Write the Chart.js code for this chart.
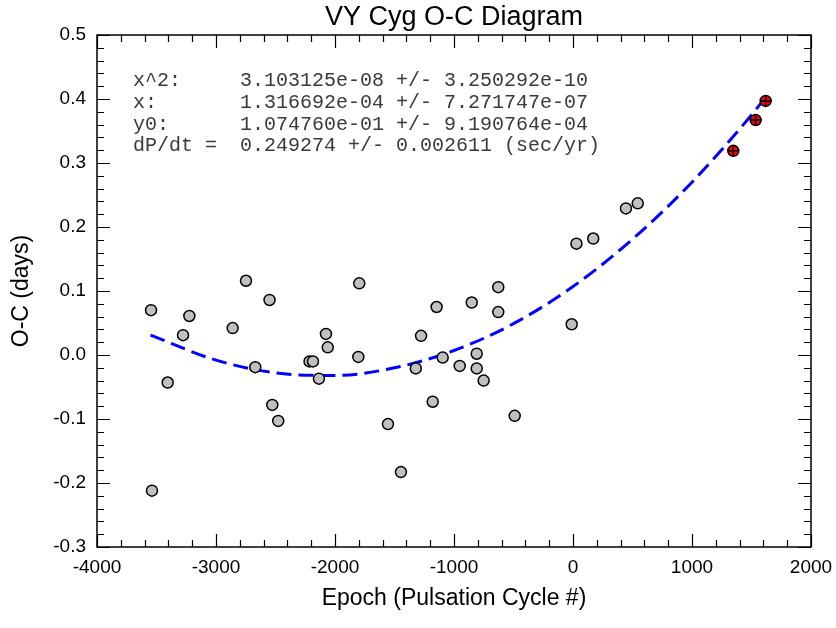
<!DOCTYPE html>
<html lang="en">
<head>
    <meta charset="UTF-8">
    <title>VY Cyg O-C Diagram</title>
    <script src="https://cdn.jsdelivr.net/npm/chart.js"></script>
    <style>
        body {
            margin: 0;
            padding: 0;
            background-color: #fff;
        }

        .chart-box {
            width: 836px;
            height: 628px;
        }
    </style>
</head>
<body>
    <div class="chart-box">
        <canvas id="ocChart"></canvas>
    </div>

    <script>
        // observed O-C points (epoch, days)
        const epochs = [-3546, -3538, -3406, -3277, -3224, -2860, -2748, -2670, -2550, -2527,
            -2477, -2214, -2185, -2135, -2076, -2061, -1796, -1804, -1555, -1446,
            -1321, -1277, -1179, -1146, -1095, -952, -851, -809, -809, -751,
            -628, -628, -490, -11, 29, 170, 445, 544];
        const ocValues = [0.070, -0.212, -0.043, 0.031, 0.061, 0.042, 0.116, -0.019, 0.086, -0.078,
            -0.103, -0.010, -0.010, -0.037, 0.033, 0.012, 0.112, -0.003, -0.108, -0.183,
            -0.021, 0.030, -0.073, 0.075, -0.004, -0.017, 0.082, 0.002, -0.021, -0.040,
            0.106, 0.067, -0.095, 0.048, 0.174, 0.182, 0.229, 0.237];

        // recent points (red)
        const recentEpochs = [1347, 1535, 1619];
        const recentValues = [0.319, 0.367, 0.397];

        // fitted parabola
        const fitEpochs = [-3550, -3000, -2500, -2000, -1500, -1000, -500, 0, 500, 1000, 1500, 1620];
        const fitValues = [0.031, -0.008, -0.028, -0.032, -0.020, 0.007, 0.049, 0.107, 0.181, 0.270, 0.375, 0.403];

        // fit results text box
        const fitLabels = ['x^2:', 'x:', 'y0:', 'dP/dt ='];
        const fitResults = ['3.103125e-08 +/- 3.250292e-10', '1.316692e-04 +/- 7.271747e-07',
            '1.074760e-01 +/- 9.190764e-04', '0.249274 +/- 0.002611 (sec/yr)'];

        const xTicks = [-4000, -3000, -2000, -1000, 0, 1000, 2000];
        const yTicks = [-0.3, -0.2, -0.1, 0.0, 0.1, 0.2, 0.3, 0.4, 0.5];

        const SANS = "Arial, 'Liberation Sans', sans-serif";

        const toPoints = (xs, ys) => xs.map((x, i) => ({ x: x, y: ys[i] }));

        // frame with inward ticks on all four sides, plus the fit text
        const frameTicks = {
            id: 'frameTicks',
            afterDatasetsDraw(chart) {
                const ctx = chart.ctx;
                const a = chart.chartArea;
                const xs = chart.scales.x;
                const ys = chart.scales.y;
                ctx.save();
                ctx.strokeStyle = '#000';
                ctx.lineWidth = 1.5;
                ctx.strokeRect(a.left, a.top, a.right - a.left, a.bottom - a.top);

                ctx.lineWidth = 1.2;
                ctx.beginPath();
                for (let v = -4000; v <= 2000; v += 200) {
                    const px = Math.round(xs.getPixelForValue(v)) + 0.5;
                    const len = (v % 1000 === 0) ? 13 : 7;
                    ctx.moveTo(px, a.bottom); ctx.lineTo(px, a.bottom - len);
                    ctx.moveTo(px, a.top); ctx.lineTo(px, a.top + len);
                }
                for (let i = -15; i <= 25; i++) {
                    const py = Math.round(ys.getPixelForValue(i * 0.02)) + 0.5;
                    const len = (i % 5 === 0) ? 13 : 7;
                    ctx.moveTo(a.left, py); ctx.lineTo(a.left + len, py);
                    ctx.moveTo(a.right, py); ctx.lineTo(a.right - len, py);
                }
                ctx.stroke();

                ctx.fillStyle = '#3a3a3a';
                ctx.font = "20px 'Liberation Mono', 'Courier New', monospace";
                ctx.textBaseline = 'middle';
                fitLabels.forEach((t, i) => {
                    const y = 81 + i * 21.7;
                    ctx.fillText(t, a.left + 36, y);
                    ctx.fillText(fitResults[i], a.left + 143, y);
                });
                ctx.restore();
            }
        };

        const ctx = document.getElementById('ocChart').getContext('2d');
        new Chart(ctx, {
            data: {
                datasets: [
                    {
                        type: 'line',
                        label: 'fit',
                        data: toPoints(fitEpochs, fitValues),
                        borderColor: '#0000ff',
                        borderWidth: 3,
                        borderDash: [15, 7],
                        pointRadius: 0,
                        fill: false,
                        cubicInterpolationMode: 'monotone',
                        order: 3
                    },
                    {
                        type: 'scatter',
                        label: 'O-C',
                        data: toPoints(epochs, ocValues),
                        backgroundColor: '#c0c0c0',
                        borderColor: '#000',
                        borderWidth: 1.5,
                        pointRadius: 5.5,
                        order: 2
                    },
                    {
                        type: 'scatter',
                        label: 'recent',
                        data: toPoints(recentEpochs, recentValues),
                        backgroundColor: '#ff0000',
                        borderColor: '#000',
                        borderWidth: 1.5,
                        pointRadius: 5.5,
                        order: 1
                    },
                    {
                        type: 'scatter',
                        label: 'recent cross',
                        data: toPoints(recentEpochs, recentValues),
                        pointStyle: 'cross',
                        borderColor: '#000',
                        borderWidth: 1.5,
                        pointRadius: 5.5,
                        order: 0
                    }
                ]
            },
            options: {
                responsive: true,
                maintainAspectRatio: false,
                animation: false,
                layout: { padding: { top: 0, right: 25, bottom: 0, left: 0 } },
                plugins: {
                    legend: { display: false },
                    tooltip: { enabled: false },
                    title: {
                        display: true,
                        text: 'VY Cyg O-C Diagram',
                        fullSize: false,
                        color: '#000',
                        font: { family: SANS, size: 27, weight: 'normal', lineHeight: 1.2 },
                        padding: { top: 1, bottom: 1.6 }
                    }
                },
                scales: {
                    x: {
                        type: 'linear',
                        min: -4000,
                        max: 2000,
                        afterBuildTicks: (s) => { s.ticks = xTicks.map(v => ({ value: v })); },
                        afterFit: (s) => {
                            s.height = 81;
                            s.paddingLeft = 0;
                            s.paddingRight = 0;
                        },
                        grid: { display: false, drawTicks: false },
                        border: { display: false },
                        ticks: {
                            color: '#000',
                            font: { family: SANS, size: 19 },
                            padding: 9,
                            maxRotation: 0,
                            autoSkip: false,
                            callback: (v) => String(v)
                        },
                        title: {
                            display: true,
                            text: 'Epoch (Pulsation Cycle #)',
                            color: '#000',
                            font: { family: SANS, size: 23 },
                            padding: { top: 0, bottom: 16 }
                        }
                    },
                    y: {
                        type: 'linear',
                        min: -0.3,
                        max: 0.5,
                        afterBuildTicks: (s) => { s.ticks = yTicks.map(v => ({ value: v })); },
                        afterFit: (s) => {
                            s.width = 97;
                            s.paddingTop = 0;
                            s.paddingBottom = 0;
                        },
                        grid: { display: false, drawTicks: false },
                        border: { display: false },
                        ticks: {
                            color: '#000',
                            font: { family: SANS, size: 19 },
                            padding: 11,
                            autoSkip: false,
                            callback: (v) => Number(v).toFixed(1)
                        },
                        title: {
                            display: true,
                            text: 'O-C (days)',
                            color: '#000',
                            font: { family: SANS, size: 23 },
                            padding: { top: 8, bottom: 0 }
                        }
                    }
                }
            },
            plugins: [frameTicks]
        });
    </script>
</body>
</html>
